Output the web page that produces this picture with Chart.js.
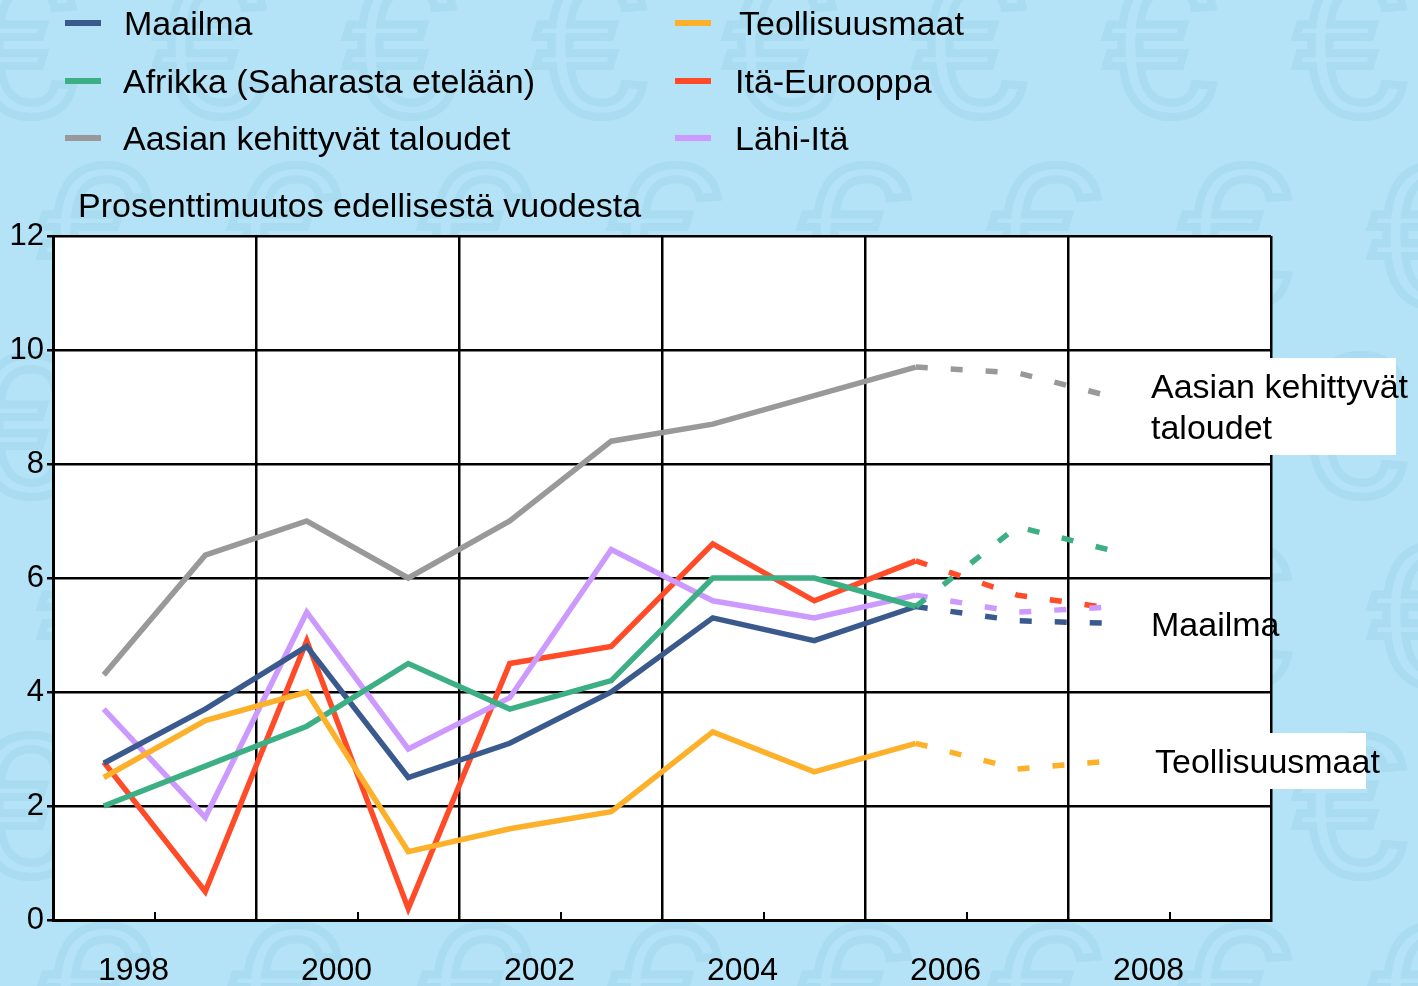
<!DOCTYPE html>
<html>
<head>
<meta charset="utf-8">
<script src="https://cdn.jsdelivr.net/npm/chart.js@4.4.1/dist/chart.umd.min.js"></script>
<style>
  body { margin: 0; background: #b4e2f6; font-family: "Liberation Sans", Arial, sans-serif; }
  #wrap { position: relative; width: 1418px; height: 986px; }
  #legend { position: absolute; left: 0; top: 0; }
  .item { position: absolute; font-size: 34px; color: #000; white-space: nowrap; line-height: 40px; }
  .item span.mark { position: absolute; width: 36px; height: 6px; top: 17px; }
  .item span.txt { position: absolute; top: 0; }
  #ytitle { position: absolute; left: 78px; top: 185px; font-size: 34px; line-height: 40px; white-space: nowrap; }
</style>
</head>
<body>
<div id="wrap">
  <canvas id="chart"></canvas>
  <div id="legend"></div>
  <div id="ytitle">Prosenttimuutos edellisestä vuodesta</div>
</div>
<script>
// vuodet, 2007-2008 ennusteita (katkoviiva)
const years = [1998, 1999, 2000, 2001, 2002, 2003, 2004, 2005, 2006, 2007, 2008];
const maailma = [2.75, 3.7, 4.8, 2.5, 3.1, 4.0, 5.3, 4.9, 5.5, 5.25, 5.2];
const teollisuusmaat = [2.5, 3.5, 4.0, 1.2, 1.6, 1.9, 3.3, 2.6, 3.1, 2.65, 2.8];
const afrikka = [2.0, 2.7, 3.4, 4.5, 3.7, 4.2, 6.0, 6.0, 5.5, 6.9, 6.45];
const itaEurooppa = [2.77, 0.5, 4.9, 0.2, 4.5, 4.8, 6.6, 5.6, 6.3, 5.7, 5.45];
const aasia = [4.3, 6.4, 7.0, 6.0, 7.0, 8.4, 8.7, 9.2, 9.7, 9.6, 9.15];
const lahiIta = [3.7, 1.8, 5.4, 3.0, 3.9, 6.5, 5.6, 5.3, 5.7, 5.4, 5.5];
const forecastFrom = 2006;

const yTicks = [0, 2, 4, 6, 8, 10, 12];
const xLabels = [1998, 2000, 2002, 2004, 2006, 2008];

function series(label, values, color) {
    return {
        label: label,
        data: years.map((y, i) => ({ x: y, y: values[i] })),
        borderColor: color,
        backgroundColor: color,
        borderWidth: 5.5,
        pointRadius: 0,
        borderCapStyle: 'butt',
        borderJoinStyle: 'miter',
        tension: 0,
        segment: {
            borderDash: ctx => ctx.p0.parsed.x >= forecastFrom ? [12, 23] : undefined
        }
    };
}

// piirtojärjestys: punainen päällimmäisenä
const datasets = [
    series('Aasian kehittyvät taloudet', aasia, '#999999'),
    series('Teollisuusmaat', teollisuusmaat, '#fdb12a'),
    series('Afrikka (Saharasta etelään)', afrikka, '#3daf84'),
    series('Maailma', maailma, '#3a5a8e'),
    series('Lähi-Itä', lahiIta, '#cc99ff'),
    series('Itä-Eurooppa', itaEurooppa, '#ff4b28')
];

// legenda kahdessa sarakkeessa
const legendOrder = [
    ['Maailma', 65, 124, 3], ['Teollisuusmaat', 675, 739, 3],
    ['Afrikka (Saharasta etelään)', 65, 123, 61], ['Itä-Eurooppa', 675, 735, 61],
    ['Aasian kehittyvät taloudet', 65, 123, 118], ['Lähi-Itä', 675, 735, 118]
];
const legendEl = document.getElementById('legend');
legendOrder.forEach(([name, mx, tx, top]) => {
    const ds = datasets.find(d => d.label === name);
    const div = document.createElement('div');
    div.className = 'item';
    div.style.top = top + 'px';
    div.innerHTML = '<span class="mark" style="left:' + mx + 'px;background:' + ds.borderColor + '"></span>' +
        '<span class="txt" style="left:' + tx + 'px">' + name + '</span>';
    legendEl.appendChild(div);
});

const bgPlugin = {
    id: 'bg',
    beforeDraw(chart) {
        const ctx = chart.ctx;
        const a = chart.chartArea;
        ctx.save();
        ctx.fillStyle = '#b4e2f6';
        ctx.fillRect(0, 0, chart.width, chart.height);
        // haaleat euromerkit taustalla
        ctx.font = '200px "Liberation Sans"';
        ctx.textAlign = 'center';
        ctx.textBaseline = 'middle';
        ctx.strokeStyle = 'rgba(130, 195, 222, 0.22)';
        ctx.lineWidth = 8;
        for (let row = 0; row < 6; row++) {
            for (let col = 0; col < 9; col++) {
                const x = col * 190 + (row % 2 ? 95 : 20);
                const y = row * 190 + 60;
                ctx.strokeText('€', x, y);
            }
        }
        ctx.fillStyle = '#ffffff';
        ctx.fillRect(a.left, a.top, a.right - a.left, a.bottom - a.top);
        ctx.restore();
    },
    afterDraw(chart) {
        const ctx = chart.ctx;
        const xs = chart.scales.x;
        const a = chart.chartArea;
        ctx.save();
        // sisäänpäin osoittavat väliviivat x-akselilla
        ctx.strokeStyle = '#000';
        ctx.lineWidth = 2;
        xLabels.forEach(v => {
            const px = Math.round(xs.getPixelForValue(v + 0.5));
            ctx.beginPath();
            ctx.moveTo(px, a.bottom);
            ctx.lineTo(px, a.bottom - 8);
            ctx.stroke();
        });
        // sarjojen nimet oikealla
        ctx.fillStyle = '#ffffff';
        ctx.fillRect(1145, 358, 251, 97);
        ctx.fillRect(1145, 733, 221, 56);
        ctx.fillStyle = '#000';
        ctx.font = '34px "Liberation Sans"';
        ctx.textBaseline = 'middle';
        ctx.textAlign = 'left';
        ctx.fillText('Aasian kehittyvät', 1151, 389);
        ctx.fillText('taloudet', 1151, 430);
        ctx.fillText('Maailma', 1151, 627);
        ctx.fillText('Teollisuusmaat', 1155, 764);
        ctx.restore();
    }
};

new Chart(document.getElementById('chart'), {
    type: 'line',
    data: { datasets: datasets },
    options: {
        responsive: true,
        maintainAspectRatio: false,
        animation: false,
        layout: { padding: { top: 236, right: 147, left: 0, bottom: 0 } },
        plugins: { legend: { display: false }, tooltip: { enabled: false } },
        scales: {
            x: {
                type: 'linear',
                min: 1997.5,
                max: 2009.5,
                afterBuildTicks: scale => {
                    const t = [];
                    for (let v = 1997.5; v <= 2009.5; v += 1) t.push({ value: v });
                    scale.ticks = t;
                },
                afterFit: scale => { scale.height = 66; },
                grid: {
                    color: ctx => (ctx.tick && Math.round(ctx.tick.value - 0.5) % 2 === 1) ? '#000' : 'rgba(0,0,0,0)',
                    lineWidth: 2.5,
                    drawTicks: false
                },
                border: { color: '#000', width: 3 },
                ticks: {
                    autoSkip: false,
                    maxRotation: 0,
                    padding: 32,
                    labelOffset: -21,
                    color: '#000',
                    font: { family: 'Liberation Sans', size: 32 },
                    callback: v => {
                        const y = Math.round(v - 0.5);
                        return xLabels.includes(y) ? String(y) : '';
                    }
                }
            },
            y: {
                min: 0,
                max: 12,
                afterBuildTicks: scale => { scale.ticks = yTicks.map(v => ({ value: v })); },
                afterFit: scale => { scale.width = 53; },
                grid: { color: '#000', lineWidth: 2.5, tickLength: 6 },
                border: { color: '#000', width: 3 },
                ticks: {
                    padding: 3,
                    color: '#000',
                    font: { family: 'Liberation Sans', size: 31 }
                }
            }
        }
    },
    plugins: [bgPlugin]
});
</script>
</body>
</html>
